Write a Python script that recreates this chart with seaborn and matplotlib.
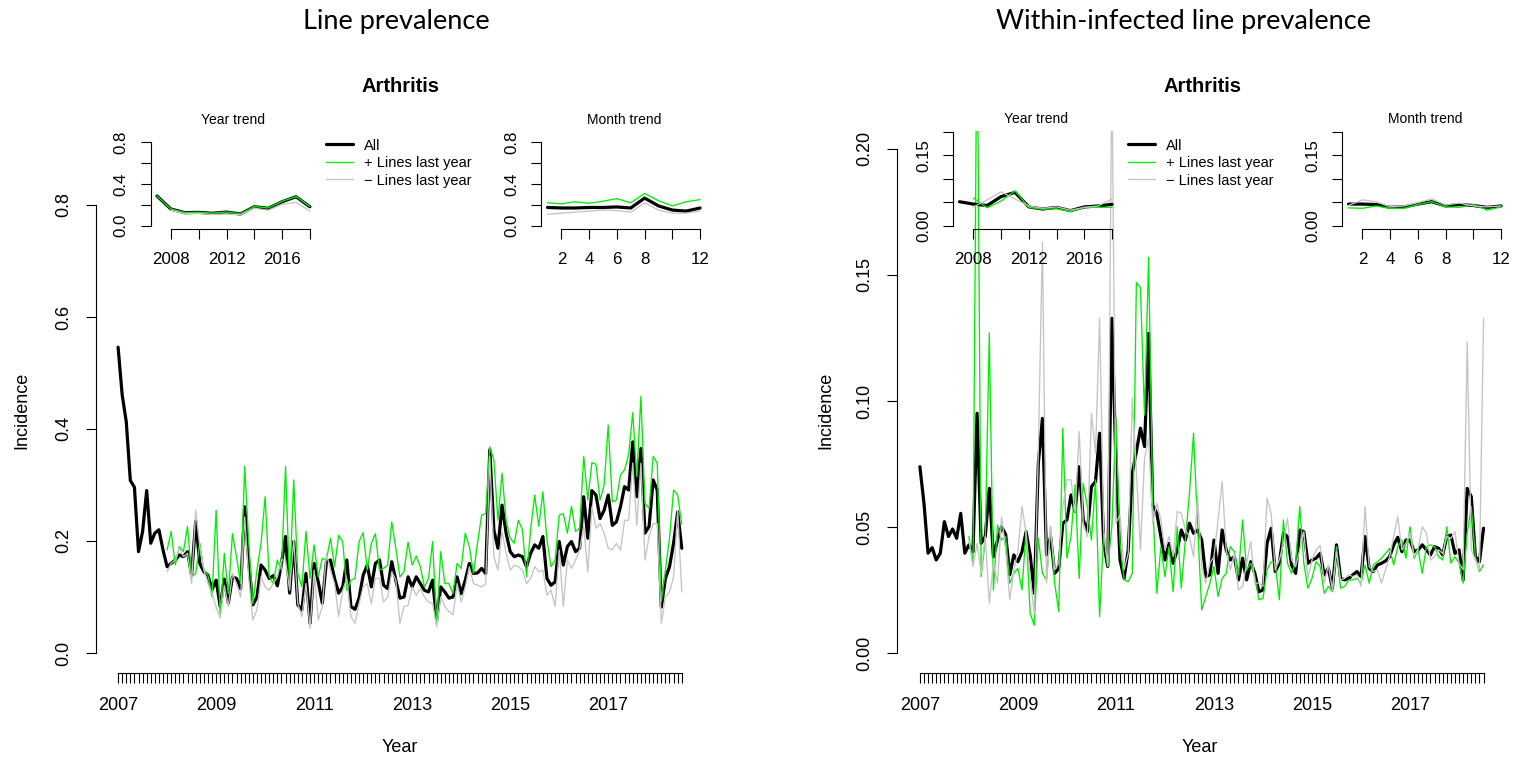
import numpy as np
import matplotlib
matplotlib.use("Agg")
import matplotlib.pyplot as plt
import seaborn as sns
from matplotlib.lines import Line2D

sns.set_theme(style="white")
plt.rcParams['font.family'] = ['Liberation Sans', 'DejaVu Sans']
plt.rcParams['text.color'] = 'black'
plt.rcParams['axes.labelcolor'] = 'black'
plt.rcParams['xtick.color'] = 'black'
plt.rcParams['ytick.color'] = 'black'

# ---------------- data ----------------
START_YEAR = 2007
year_labels = ["2007", "2009", "2011", "2013", "2015", "2017"]
inset_years = list(range(2007, 2019))
inset_months = list(range(1, 13))

# Left panel: line prevalence (monthly, Jan 2007 - Jul 2018)
lp_all = [0.546, 0.461, 0.413, 0.308, 0.296, 0.181, 0.217, 0.29, 0.196, 0.214, 0.22, 0.184,
          0.154, 0.16, 0.166, 0.175, 0.172, 0.181, 0.139, 0.235, 0.16, 0.145, 0.139, 0.113,
          0.13, 0.083, 0.132, 0.089, 0.136, 0.133, 0.115, 0.261, 0.16, 0.086, 0.1, 0.157,
          0.148, 0.133, 0.138, 0.12, 0.16, 0.208, 0.107, 0.199, 0.086, 0.077, 0.142, 0.053,
          0.16, 0.127, 0.089, 0.163, 0.166, 0.133, 0.107, 0.118, 0.166, 0.083, 0.078, 0.098,
          0.139, 0.157, 0.118, 0.16, 0.166, 0.121, 0.115,
          0.163, 0.13, 0.098, 0.1, 0.136, 0.118, 0.136, 0.124, 0.112, 0.109, 0.13, 0.059,
          0.118, 0.109, 0.098, 0.1, 0.136, 0.106, 0.13, 0.16, 0.142, 0.143, 0.151, 0.142,
          0.363, 0.22, 0.187, 0.264, 0.214, 0.181, 0.172, 0.175, 0.172, 0.154, 0.178, 0.193,
          0.187, 0.208, 0.133, 0.121, 0.127, 0.199, 0.157, 0.19, 0.199, 0.181, 0.187, 0.279,
          0.205, 0.29, 0.282, 0.24, 0.255, 0.282, 0.228, 0.234, 0.261, 0.297, 0.291, 0.377,
          0.279, 0.365, 0.214, 0.226, 0.309, 0.291, 0.082, 0.133, 0.154, 0.196, 0.252, 0.187]
lp_plus = [0.184, 0.217, 0.157, 0.19, 0.181, 0.226, 0.136, 0.142, 0.196, 0.148, 0.139, 0.1,
           0.255, 0.065, 0.178, 0.106, 0.213, 0.172, 0.124, 0.333, 0.196, 0.088, 0.148, 0.196,
           0.279, 0.136, 0.124, 0.166, 0.148, 0.333, 0.118, 0.309, 0.142, 0.118, 0.217, 0.133,
           0.193, 0.136, 0.169, 0.166, 0.205, 0.154, 0.21, 0.199, 0.112, 0.13, 0.133, 0.199,
           0.215, 0.148, 0.196, 0.213, 0.148, 0.151, 0.157,
           0.234, 0.187, 0.136, 0.145, 0.198, 0.157, 0.173, 0.154, 0.118, 0.133, 0.199, 0.053,
           0.181, 0.124, 0.124, 0.106, 0.16, 0.151, 0.214, 0.19, 0.142, 0.196, 0.246, 0.249,
           0.368, 0.345, 0.237, 0.321, 0.237, 0.205, 0.196, 0.237, 0.22, 0.136, 0.22, 0.282,
           0.226, 0.288, 0.202, 0.154, 0.166, 0.246, 0.249, 0.214, 0.262, 0.217, 0.223, 0.351,
           0.273, 0.34, 0.337, 0.273, 0.30, 0.407, 0.27, 0.273, 0.318, 0.327, 0.354, 0.429,
           0.315, 0.458, 0.267, 0.258, 0.351, 0.339, 0.092, 0.148, 0.205, 0.291, 0.282, 0.23]
lp_minus = [0.145, 0.16, 0.166, 0.187, 0.172, 0.178, 0.124, 0.255, 0.19, 0.148, 0.124, 0.106,
            0.083, 0.062, 0.121, 0.083, 0.142, 0.124, 0.1, 0.243, 0.133, 0.059, 0.077, 0.136,
            0.118, 0.112, 0.124, 0.136, 0.166, 0.166, 0.112, 0.202, 0.088, 0.065, 0.124, 0.044,
            0.148, 0.059, 0.083, 0.178, 0.148, 0.124, 0.065, 0.112, 0.133, 0.065, 0.053, 0.088,
            0.118, 0.124, 0.088, 0.133, 0.133, 0.091, 0.1,
            0.145, 0.13, 0.053, 0.083, 0.085, 0.118, 0.103, 0.115, 0.1, 0.091, 0.088, 0.047,
            0.1, 0.083, 0.074, 0.068, 0.124, 0.091, 0.118, 0.154, 0.124, 0.121, 0.118, 0.124,
            0.351, 0.172, 0.148, 0.217, 0.178, 0.148, 0.157, 0.154, 0.148, 0.124, 0.133, 0.154,
            0.145, 0.148, 0.103, 0.112, 0.083, 0.184, 0.083, 0.166, 0.151, 0.166, 0.184, 0.226,
            0.145, 0.261, 0.223, 0.231, 0.214, 0.187, 0.184, 0.196, 0.184, 0.237, 0.237, 0.339,
            0.228, 0.339, 0.166, 0.208, 0.231, 0.231, 0.053, 0.1, 0.109, 0.136, 0.255, 0.109]

lp_year_all = [0.285, 0.16, 0.125, 0.128, 0.119, 0.131, 0.112, 0.182, 0.167, 0.23, 0.278, 0.182]
lp_year_plus = [0.285, 0.16, 0.126, 0.129, 0.12, 0.132, 0.113, 0.184, 0.17, 0.234, 0.28, 0.184]
lp_year_minus = [0.15, 0.115, 0.118, 0.108, 0.113, 0.104, 0.168, 0.148, 0.205, 0.225, 0.14]
lp_month_all = [0.175, 0.17, 0.17, 0.175, 0.175, 0.18, 0.17, 0.265, 0.19, 0.15, 0.14, 0.17]
lp_month_plus = [0.22, 0.21, 0.23, 0.215, 0.235, 0.26, 0.22, 0.31, 0.24, 0.19, 0.23, 0.25]
lp_month_minus = [0.11, 0.12, 0.13, 0.14, 0.15, 0.145, 0.13, 0.22, 0.15, 0.12, 0.12, 0.14]

# Right panel: within-infected line prevalence
wi_all = [0.0739, 0.0594, 0.0396, 0.0418, 0.0369, 0.0396, 0.0521, 0.0462, 0.0492, 0.0455, 0.0554, 0.0396,
          0.0429, 0.0402, 0.0951, 0.0435, 0.0462, 0.0653, 0.0382, 0.0448, 0.0501,
          0.047, 0.031, 0.0389, 0.0362, 0.0402, 0.0481, 0.0389, 0.0237, 0.0753, 0.0931,
          0.0389, 0.0462, 0.0316, 0.0336, 0.0515, 0.0528, 0.0627, 0.0561, 0.0739, 0.0528,
          0.0481, 0.066, 0.068, 0.0872, 0.0435, 0.0343, 0.1328, 0.0753, 0.0369, 0.0296,
          0.0409, 0.0713, 0.0799, 0.0892, 0.0819, 0.1268, 0.0587, 0.0554, 0.0462, 0.0369,
          0.0435, 0.0356, 0.0409, 0.0488, 0.0448, 0.0515, 0.0475, 0.0488,
          0.0448, 0.0303, 0.031, 0.0448, 0.0316, 0.0488, 0.0409, 0.0369, 0.0382, 0.029,
          0.0376, 0.029, 0.0362, 0.0316, 0.0243, 0.025, 0.0435, 0.0495, 0.0323, 0.0356,
          0.0475, 0.0462, 0.0349, 0.0316, 0.0488, 0.0481, 0.0356, 0.0369, 0.0376, 0.0395,
          0.031, 0.0336, 0.0257, 0.0429, 0.0296, 0.029, 0.0296, 0.031, 0.0323, 0.0303,
          0.0462, 0.0336, 0.0323, 0.0349, 0.0356, 0.0365, 0.0382, 0.0429, 0.0459, 0.0402,
          0.0448, 0.0448, 0.0402, 0.0409, 0.0429, 0.0409, 0.0389, 0.0422, 0.0415, 0.0389,
          0.0462, 0.0468, 0.0395, 0.0409, 0.029, 0.0653, 0.062, 0.0382, 0.0362, 0.0495]
wi_plus = [0.0462, 0.0349, 0.26, 0.0303, 0.0448, 0.127, 0.025, 0.0508, 0.0448, 0.0462,
           0.0277, 0.0316, 0.0336, 0.025, 0.0488, 0.0157, 0.011, 0.0455, 0.0316, 0.029,
           0.0501, 0.0277, 0.0164, 0.0892, 0.0376, 0.0462, 0.0667, 0.0296, 0.0673, 0.0581,
           0.0448, 0.0687, 0.0144, 0.0475, 0.0343, 0.0501, 0.0931, 0.0435, 0.029, 0.0283,
           0.0316, 0.147, 0.145, 0.0944, 0.157, 0.0594, 0.0237, 0.0422, 0.0303, 0.0422,
           0.0243, 0.0501, 0.0257, 0.0448, 0.0634, 0.0872, 0.0501,
           0.0171, 0.0224, 0.0277, 0.0343, 0.0224, 0.0296, 0.0316, 0.0422, 0.0402, 0.031,
           0.0528, 0.033, 0.0356, 0.0303, 0.0211, 0.0217, 0.033, 0.0362, 0.0356, 0.0211,
           0.0528, 0.0356, 0.0316, 0.0356, 0.0581, 0.0356, 0.0257, 0.0296, 0.0362, 0.0343,
           0.0237, 0.0264, 0.0243, 0.0422, 0.0257, 0.0264, 0.029, 0.029, 0.0296, 0.0277,
           0.0349, 0.0277, 0.0349, 0.0362, 0.0376, 0.0395, 0.0415, 0.0349, 0.0422, 0.0448,
           0.0376, 0.0501, 0.0376, 0.0409, 0.0316, 0.0422, 0.0429, 0.0422, 0.0382, 0.0369,
           0.0501, 0.0356, 0.0382, 0.0356, 0.0277, 0.0475, 0.0581, 0.0382, 0.0323, 0.0349]
wi_minus = [0.0448, 0.0343, 0.0435, 0.0316, 0.0462, 0.0197, 0.0356, 0.0277, 0.0541, 0.0409,
            0.0211, 0.033, 0.0402, 0.0581, 0.0475, 0.0303, 0.0157, 0.0806, 0.163, 0.0277,
            0.0501, 0.033, 0.0356, 0.0581, 0.0687, 0.0687, 0.0554, 0.0879, 0.0515, 0.0462,
            0.0951, 0.0792, 0.1328, 0.0488, 0.0343, 0.235, 0.0515, 0.0548, 0.033, 0.0395,
            0.1011, 0.0726, 0.0409, 0.0773, 0.085, 0.0515, 0.0594, 0.0528, 0.0409, 0.0462,
            0.0382, 0.0561, 0.0554, 0.0488, 0.0462, 0.0382, 0.062,
            0.0343, 0.0277, 0.0356, 0.0382, 0.0528, 0.068, 0.0409, 0.033, 0.0395, 0.025,
            0.0264, 0.0356, 0.0442, 0.0277, 0.0277, 0.0264, 0.0614, 0.0554, 0.033, 0.0369,
            0.0435, 0.0535, 0.0369, 0.0343, 0.0409, 0.0481, 0.0296, 0.0369, 0.0409, 0.0426,
            0.0277, 0.0349, 0.025, 0.0402, 0.029, 0.0296, 0.031, 0.0303, 0.031, 0.0264,
            0.0581, 0.0343, 0.0323, 0.033, 0.0277, 0.033, 0.0382, 0.0462, 0.0541, 0.0409,
            0.0435, 0.0475, 0.0382, 0.0415, 0.0501, 0.0475, 0.0369, 0.0382, 0.0409, 0.0395,
            0.0462, 0.0455, 0.0481, 0.0356, 0.033, 0.1235, 0.0409, 0.0369, 0.033, 0.1328]

wi_year_all = [0.051, 0.046, 0.043, 0.062, 0.071, 0.040, 0.0355, 0.039, 0.032, 0.040, 0.042, 0.0455]
wi_year_plus = [0.059, 0.038, 0.0525, 0.074, 0.039, 0.035, 0.036, 0.030, 0.039, 0.039, 0.039]
wi_year_minus = [0.040, 0.055, 0.072, 0.057, 0.042, 0.037, 0.040, 0.033, 0.039, 0.042, 0.057]
wi_month_all = [0.046, 0.046, 0.045, 0.039, 0.040, 0.046, 0.051, 0.042, 0.045, 0.043, 0.039, 0.042]
wi_month_plus = [0.038, 0.037, 0.042, 0.037, 0.037, 0.045, 0.051, 0.040, 0.039, 0.045, 0.033, 0.040]
wi_month_minus = [0.043, 0.055, 0.051, 0.040, 0.042, 0.049, 0.057, 0.044, 0.048, 0.042, 0.040, 0.042]

# ---------------- figure ----------------
W, H = 1517, 762
fig = plt.figure(figsize=(W / 100, H / 100), dpi=100)


def rect(x0, y0, x1, y1):
    return [x0 / W, 1 - y1 / H, (x1 - x0) / W, (y1 - y0) / H]


BLACK, GREEN, GREY = "black", "#00ee00", "#c4c4c4"
LW_ALL, LW_SUB = 2.3, 0.95
TICKFONT = 13


def draw_lines(ax, x_all, y_all, x_plus, y_plus, x_minus, y_minus):
    sns.lineplot(x=x_all, y=y_all, ax=ax, color=BLACK, linewidth=LW_ALL)
    sns.lineplot(x=x_plus, y=y_plus, ax=ax, color=GREEN, linewidth=LW_SUB)
    sns.lineplot(x=x_minus, y=y_minus, ax=ax, color=GREY, linewidth=LW_SUB)


def style_axes(ax, xticks, xlabels, yticks, ylabels, xb, yb, fs, pad):
    for s in ["top", "right"]:
        ax.spines[s].set_visible(False)
    for s in ["left", "bottom"]:
        ax.spines[s].set_color("black")
        ax.spines[s].set_linewidth(0.8)
    ax.spines["bottom"].set_bounds(*xb)
    ax.spines["left"].set_bounds(*yb)
    ax.set_xticks(xticks)
    ax.set_xticklabels(xlabels)
    ax.set_yticks(yticks)
    ax.set_yticklabels(ylabels, rotation=90, va="center")
    ax.tick_params(axis="both", which="both", bottom=True, left=True, direction="out",
                   length=7, width=0.8, color="black", labelcolor="black",
                   labelsize=fs, pad=pad)
    ax.set_xlabel("")
    ax.set_ylabel("")
    ax.grid(False)
    ax.patch.set_alpha(0)


def panel(xoff, all_v, plus_v, minus_v, ylim, yticks, ylabels, ytop,
          yr_all, yr_plus, yr_minus, mo_all, mo_plus, mo_minus,
          yr_rect, mo_rect, in_ylim, in_yticks, in_ylabels, in_ytop):
    # main axes
    ax = fig.add_axes(rect(95.5 + xoff, 131, 704.5 + xoff, 673))
    n = len(all_v)
    x_all = np.arange(n)
    x_plus = np.arange(len(plus_v)) + (n - len(plus_v))
    x_minus = np.arange(len(minus_v)) + (n - len(minus_v))
    draw_lines(ax, x_all, all_v, x_plus, plus_v, x_minus, minus_v)
    ax.set_xlim(-5.53, 143.57)
    ax.set_ylim(*ylim)
    xt = np.arange(n)
    xl = [year_labels[i // 24] if i % 24 == 0 and i // 24 < len(year_labels) else "" for i in xt]
    style_axes(ax, xt, xl, yticks, ylabels, (0, n - 1), (0, ytop), TICKFONT, 10)

    leg_handles = [Line2D([], [], color=BLACK, lw=LW_ALL),
                   Line2D([], [], color=GREEN, lw=LW_SUB),
                   Line2D([], [], color=GREY, lw=LW_SUB)]
    ax.legend(leg_handles, ["All", "+ Lines last year", "\u2212 Lines last year"],
              loc="upper left", bbox_to_anchor=((326 + xoff) / W, 1 - 138.5 / H),
              bbox_transform=fig.transFigure, frameon=False, fontsize=10.5,
              handlelength=1.85, handletextpad=0.75, labelspacing=0.24,
              borderpad=0, borderaxespad=0)

    # year trend inset
    axy = fig.add_axes(rect(*yr_rect))
    draw_lines(axy, inset_years, yr_all,
               inset_years[len(inset_years) - len(yr_plus):], yr_plus,
               inset_years[len(inset_years) - len(yr_minus):], yr_minus)
    axy.set_xlim(2006.56, 2018.44)
    axy.set_ylim(*in_ylim)
    style_axes(axy, list(range(2008, 2019, 2)), ["2008", "", "2012", "", "2016", ""],
               in_yticks, in_ylabels, (2008, 2018), (0, in_ytop), 12.2, 9)
    axy.set_title("Year trend", fontsize=10, pad=6, color="black")

    # month trend inset
    axm = fig.add_axes(rect(*mo_rect))
    draw_lines(axm, inset_months, mo_all, inset_months, mo_plus, inset_months, mo_minus)
    axm.set_xlim(0.56, 12.44)
    axm.set_ylim(*in_ylim)
    style_axes(axm, list(range(2, 13, 2)), ["2", "4", "6", "8", "", "12"],
               in_yticks, in_ylabels, (2, 12), (0, in_ytop), 12.2, 9)
    axm.set_title("Month trend", fontsize=10, pad=6, color="black")
    return ax


# left panel
panel(0, lp_all, lp_plus, lp_minus, (-0.0357, 0.932),
      [0, 0.2, 0.4, 0.6, 0.8], ["0.0", "0.2", "0.4", "0.6", "0.8"], 0.8,
      lp_year_all, lp_year_plus, lp_year_minus, lp_month_all, lp_month_plus, lp_month_minus,
      (150.9, 132, 316, 229.3), (541.4, 132, 706.2, 229.3), (-0.0345, 0.899),
      [0, 0.2, 0.4, 0.6, 0.8], ["0.0", "", "0.4", "", "0.8"], 0.8)

# right panel
panel(801.8, wi_all, wi_plus, wi_minus, (-0.00794, 0.2071),
      [0, 0.05, 0.10, 0.15, 0.20], ["0.00", "0.05", "0.10", "0.15", "0.20"], 0.20,
      wi_year_all, wi_year_plus, wi_year_minus, wi_month_all, wi_month_plus, wi_month_minus,
      (953.4, 131, 1118.2, 229.3), (1342.4, 131, 1507.2, 229.3), (-0.00766, 0.2015),
      [0, 0.05, 0.10, 0.15, 0.20], ["0.00", "", "", "0.15", ""], 0.20)


# texts
def ftext(x, y, s, **kw):
    fig.text(x / W, 1 - y / H, s, ha="center", va="center", color="black", **kw)


ftext(396, 21, "Line prevalence", fontsize=19.5, family=["Lato", "DejaVu Sans"])
ftext(1183, 21, "Within-infected line prevalence", fontsize=19.5, family=["Lato", "DejaVu Sans"])
ftext(400, 86, "Arthritis", fontsize=14.5, fontweight="bold")
ftext(1202, 86, "Arthritis", fontsize=14.5, fontweight="bold")
ftext(22, 410, "Incidence", fontsize=13, rotation=90)
ftext(826, 410, "Incidence", fontsize=13, rotation=90)
ftext(400, 747, "Year", fontsize=13)
ftext(1200, 747, "Year", fontsize=13)

fig.savefig("out.png", dpi=100)
